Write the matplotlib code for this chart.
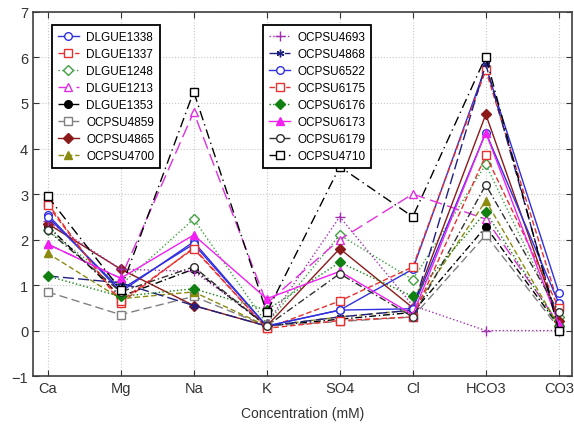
import numpy as np
import matplotlib.pyplot as plt

plt.rcParams['font.family'] = ['Liberation Sans', 'DejaVu Sans']

ions = ['Ca', 'Mg', 'Na', 'K', 'SO4', 'Cl', 'HCO3', 'CO3']

# Konzentrationen je Probe (mM), Reihenfolge wie ions
DLGUE1338 = [2.55, 0.85, 1.95, 0.10, 0.45, 1.35, 5.80, 0.83]
DLGUE1337 = [2.80, 0.60, 1.82, 0.05, 0.65, 1.40, 5.72, 0.55]
DLGUE1248 = [2.20, 1.00, 2.45, 0.15, 2.10, 1.12, 3.65, 0.30]
DLGUE1213 = [1.90, 1.15, 4.80, 0.60, 2.00, 3.00, 2.45, 0.15]
DLGUE1353 = [2.30, 0.75, 1.35, 0.10, 0.25, 0.40, 2.28, 0.10]
OCPSU4859 = [0.85, 0.35, 0.75, 0.10, 0.20, 0.30, 2.10, 0.05]
OCPSU4865 = [2.35, 1.35, 0.55, 0.10, 1.80, 0.50, 4.75, 0.20]
OCPSU4700 = [1.70, 0.70, 0.85, 0.10, 0.30, 0.45, 2.85, 0.10]
OCPSU4693 = [2.40, 1.35, 1.30, 0.15, 2.50, 0.55, 0.00, 0.00]
OCPSU4868 = [1.20, 1.05, 0.55, 0.10, 0.30, 0.45, 5.85, 0.10]
OCPSU6522 = [2.50, 0.90, 1.90, 0.10, 0.45, 0.48, 4.35, 0.60]
OCPSU6175 = [2.75, 0.65, 1.80, 0.05, 0.22, 0.30, 3.85, 0.50]
OCPSU6176 = [1.20, 0.75, 0.92, 0.45, 1.50, 0.75, 2.60, 0.10]
OCPSU6173 = [1.90, 1.15, 2.10, 0.70, 1.30, 0.35, 4.35, 0.15]
OCPSU6179 = [2.20, 0.85, 1.40, 0.10, 1.25, 0.30, 3.20, 0.40]
OCPSU4710 = [2.95, 0.90, 5.25, 0.40, 3.60, 2.50, 6.02, 0.00]

# (Name, Werte, Farbe, Linienstil, Marker, gefuellt)
reihen1 = [
    ('DLGUE1338', DLGUE1338, '#3030e0', '-', 'o', False),
    ('DLGUE1337', DLGUE1337, '#e83030', (0, (4, 2)), 's', False),
    ('DLGUE1248', DLGUE1248, '#40a040', ':', 'D', False),
    ('DLGUE1213', DLGUE1213, '#e030e0', (0, (9, 4)), '^', False),
    ('DLGUE1353', DLGUE1353, 'black', (0, (5, 2, 1, 2)), 'o', True),
    ('OCPSU4859', OCPSU4859, '#808080', (0, (6, 3)), 's', False),
    ('OCPSU4865', OCPSU4865, '#8b1a1a', '-', 'D', True),
    ('OCPSU4700', OCPSU4700, '#8b8b10', (0, (4, 2)), '^', True),
]
reihen2 = [
    ('OCPSU4693', OCPSU4693, '#a030b0', ':', '+', False),
    ('OCPSU4868', OCPSU4868, '#202080', (0, (8, 3)), (6, 2, 0), False),
    ('OCPSU6522', OCPSU6522, '#3030e0', '-', 'o', False),
    ('OCPSU6175', OCPSU6175, '#e83030', (0, (4, 2)), 's', False),
    ('OCPSU6176', OCPSU6176, '#108010', ':', 'D', True),
    ('OCPSU6173', OCPSU6173, '#f020f0', '-', '^', True),
    ('OCPSU6179', OCPSU6179, '#303030', (0, (5, 2, 1, 2)), 'o', False),
    ('OCPSU4710', OCPSU4710, 'black', (0, (7, 3, 1, 3)), 's', False),
]

fig = plt.figure(figsize=(5.74, 4.31), dpi=100)
ax = fig.add_axes([0.0575, 0.125, 0.939, 0.845])
x = np.arange(len(ions))


def zeichne(reihen):
    handles = []
    for name, werte, farbe, ls, mk, voll in reihen:
        h, = ax.plot(x, werte, color=farbe, linestyle=ls, linewidth=1.0,
                     marker=mk, markersize=5.5 if mk != '+' else 7,
                     markerfacecolor=farbe if voll else 'white',
                     markeredgecolor=farbe, markeredgewidth=1.0, label=name)
        handles.append(h)
    return handles


h1 = zeichne(reihen1)
h2 = zeichne(reihen2)

ax.set_xlim(-0.2, 7.18)
ax.set_ylim(-1, 7)
ax.set_xticks(x)
ax.set_xticklabels(ions)
ax.set_yticks(range(-1, 8))
ax.tick_params(axis='both', labelsize=10.5, direction='in', length=4,
               top=True, right=True, colors='#333333', labelcolor='#333333')
ax.grid(True, linestyle=':', color='#c8c8c8', linewidth=0.8)
ax.set_axisbelow(True)
for sp in ax.spines.values():
    sp.set_linewidth(1.2)
    sp.set_color('#404040')
ax.set_xlabel('Concentration (mM)', fontsize=10, color='#333333', labelpad=8)

leg_kw = dict(fontsize=8.5, frameon=True, fancybox=False, edgecolor='black',
              framealpha=1, loc='upper left', borderaxespad=0,
              handlelength=1.8, handletextpad=0.6, labelspacing=0.42,
              borderpad=0.5)
leg1 = ax.legend(handles=h1, bbox_to_anchor=(0.035, 0.964), **leg_kw)
leg1.get_frame().set_linewidth(1.3)
ax.add_artist(leg1)
leg2 = ax.legend(handles=h2, bbox_to_anchor=(0.427, 0.964), **leg_kw)
leg2.get_frame().set_linewidth(1.3)

fig.savefig('out.png', dpi=100)
